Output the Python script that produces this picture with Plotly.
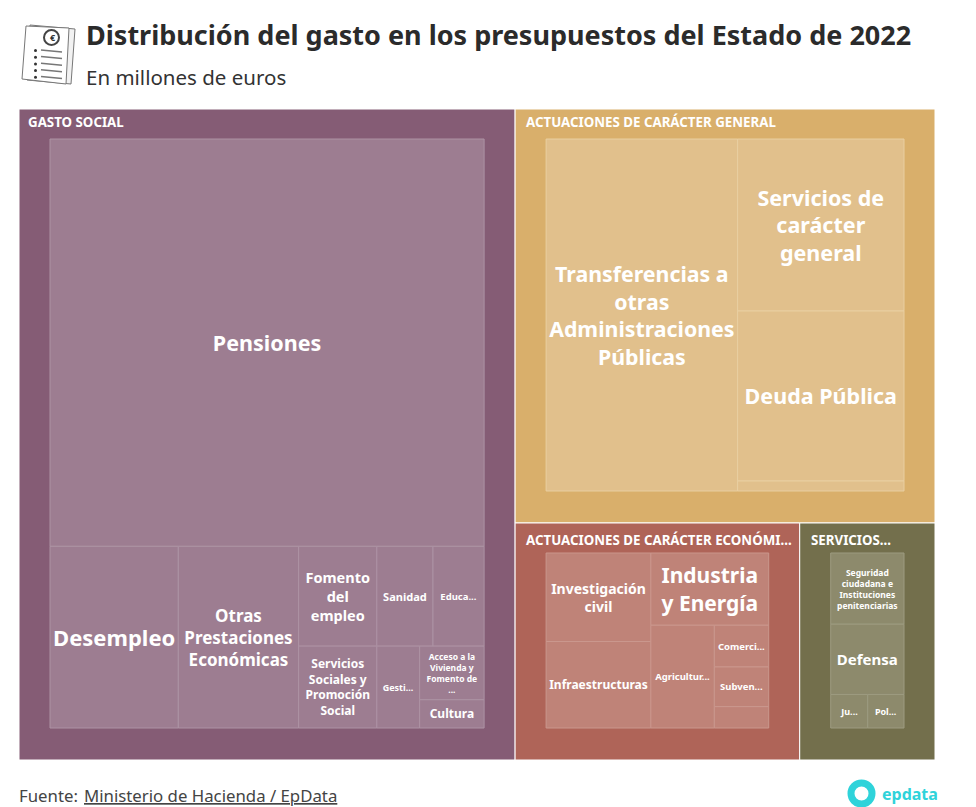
import plotly.graph_objects as go

W, H = 976, 807
LEFT_BLEED = 12  # the treemap's root padding reaches past the left page edge
FIG_W = W + LEFT_BLEED

TITLE = "Distribución del gasto en los presupuestos del Estado de 2022"
SUBTITLE = "En millones de euros"
SOURCE_PREFIX = "Fuente:"
SOURCE_LINK = "Ministerio de Hacienda / EpData"

groups = ["GASTO SOCIAL", "ACTUACIONES DE CARÁCTER GENERAL",
          "ACTUACIONES DE CARÁCTER ECONÓMICO", "SERVICIOS PÚBLICOS BÁSICOS"]
group_text = ["GASTO SOCIAL", "ACTUACIONES DE CARÁCTER GENERAL",
              "ACTUACIONES DE CARÁCTER ECONÓMI...", "SERVICIOS..."]
group_colors = ["#855C75", "#D9AF6B", "#AF6458", "#736F4C"]
leaf_colors = ["#9D7D91", "#E1C08C", "#BF8378", "#8D8A6C"]
leaf_lines = ["#AD93A4", "#E9CFA1", "#CA978D", "#9D9B80"]

social_labels = ["Pensiones", "Desempleo", "Otras Prestaciones Económicas", "Fomento del empleo",
                 "Servicios Sociales y Promoción Social", "Sanidad", "Educación",
                 "Gestión y Administración de la Seguridad Social",
                 "Acceso a la Vivienda y Fomento de la Edificación", "Cultura"]
social_values = [171165, 22570, 21158, 7557, 6196, 5425, 4941, 3390, 3345, 1763]
social_text = ["Pensiones", "Desempleo", "Otras<br>Prestaciones<br>Económicas", "Fomento<br>del<br>empleo",
               "Servicios<br>Sociales y<br>Promoción<br>Social", "Sanidad", "Educa...", "Gesti...",
               "Acceso a la<br>Vivienda y<br>Fomento de<br>...", "Cultura"]
social_sizes = [21.5, 22, 17, 14.5, 12, 11, 9.5, 9, 8.5, 12]

general_labels = ["Transferencias a otras Administraciones Públicas", "Servicios de carácter general",
                  "Deuda Pública", "Alta dirección"]
general_values = [71275, 30270, 29917, 1760]
general_text = ["Transferencias a<br>otras<br>Administraciones<br>Públicas", "Servicios de<br>carácter<br>general",
                "Deuda Pública", ""]
general_sizes = [21.5, 21.5, 21.5, 9]

economic_labels = ["Investigación civil", "Infraestructuras", "Industria y Energía", "Agricultura, Pesca y Alimentación",
                   "Comercio, Turismo y PYMES", "Subvenciones al transporte", "Otras Actuaciones de Carácter Económico"]
economic_values = [12305, 12022, 11298, 8654, 3011, 2864, 1542]
economic_text = ["Investigación<br>civil", "Infraestructuras", "Industria<br>y Energía", "Agricultur...",
                 "Comerci...", "Subven...", ""]
economic_sizes = [14, 14, 21, 9.5, 9.5, 9.5, 9]

services_labels = ["Seguridad ciudadana e Instituciones penitenciarias", "Defensa", "Justicia", "Política Exterior"]
services_values = [10000, 9860, 2380, 2332]
services_text = ["Seguridad<br>ciudadana e<br>Instituciones<br>penitenciarias", "Defensa", "Ju...", "Pol..."]
services_sizes = [8.5, 15, 9, 9]

FONT = "Noto Sans"
PAD = dict(l=31, r=31, t=30, b=32)


def px(x):
    return (x + LEFT_BLEED) / FIG_W


def py(y):
    return 1 - y / H


leaf_sets = [
    (social_labels, social_values, social_text, social_sizes),
    (general_labels, general_values, general_text, general_sizes),
    (economic_labels, economic_values, economic_text, economic_sizes),
    (services_labels, services_values, services_text, services_sizes),
]

ids, labels, parents, values, texts, hovers, sizes, colors, lcolors = [], [], [], [], [], [], [], [], []
for i, (g, (ls, vs, ts, ss)) in enumerate(zip(groups, leaf_sets)):
    ids.append(g)
    labels.append("")  # group headers are left-aligned annotations below
    parents.append("")
    values.append(sum(vs))
    texts.append("")
    hovers.append(g)
    sizes.append(10)
    colors.append(group_colors[i])
    lcolors.append("#FFFFFF")
    for l, v, t, s in zip(ls, vs, ts, ss):
        ids.append(l)
        labels.append(l)
        parents.append(g)
        values.append(v)
        texts.append(t)
        hovers.append(l)
        sizes.append(s)
        colors.append(leaf_colors[i])
        lcolors.append(leaf_lines[i])

fig = go.Figure(go.Treemap(
    ids=ids,
    labels=labels,
    parents=parents,
    values=values,
    text=texts,
    hovertext=hovers,
    branchvalues="total",
    sort=True,
    texttemplate="%{text}",
    textposition="middle center",
    textfont=dict(family=FONT, color="#FFFFFF", size=sizes, weight=700),
    hoverinfo="text+value",
    marker=dict(colors=colors, line=dict(color=lcolors, width=1), pad=PAD),
    tiling=dict(packing="squarify", squarifyratio=1, pad=0),
    pathbar=dict(visible=False),
    domain=dict(x=[max(0, px(19 - PAD["l"])), px(935 + PAD["r"])],
                y=[py(760 + PAD["b"]), py(109 - PAD["t"])]),
))

annotations = [
    dict(text=f"<b>{TITLE}</b>", x=px(84), y=py(35), font=dict(family=FONT, size=27, color="#2B2B2B")),
    dict(text=SUBTITLE, x=px(84), y=py(77), font=dict(family=FONT, size=20.5, color="#333333")),
    dict(text=SOURCE_PREFIX, x=px(17), y=py(795), font=dict(family=FONT, size=16.8, color="#444444")),
    dict(text=SOURCE_LINK, x=px(82), y=py(795), font=dict(family=FONT, size=16.8, color="#444444", lineposition="under")),
    dict(text="<b>epdata</b>", x=px(880), y=py(794), font=dict(family=FONT, size=16, color="#2FD3DA")),
    dict(text="<b>€</b>", x=px(47.5), y=py(37.5), font=dict(family=FONT, size=9, color="#333333")),
]
header_pos = [(26, 122), (524, 122), (524, 540), (809, 540)]
for t, (hx, hy) in zip(group_text, header_pos):
    annotations.append(dict(text=f"<b>{t}</b>", x=px(hx), y=py(hy), font=dict(family=FONT, size=13.3, color="#FFFFFF")))
for a in annotations:
    a.update(xref="paper", yref="paper", xanchor="left", yanchor="middle", showarrow=False)


def path(points):
    return "M " + " L ".join(f"{px(x)},{py(y)}" for x, y in points) + " Z"


shapes = [
    # document icon
    dict(type="path", path=path([(30, 25), (75, 29), (71, 84), (27, 80)]), fillcolor="#F2F2F2", line=dict(color="#777777", width=1)),
    dict(type="path", path=path([(26, 26), (69, 28), (66, 84), (22, 79)]), fillcolor="#FFFFFF", line=dict(color="#777777", width=1)),
    dict(type="circle", x0=px(44), x1=px(59), y0=py(30), y1=py(45), line=dict(color="#444444", width=2), fillcolor="#FFFFFF"),
    # epdata ring
    dict(type="circle", x0=px(851), x1=px(872), y0=py(804), y1=py(783), line=dict(color="#2FD3DA", width=7), fillcolor="rgba(0,0,0,0)"),
]
for k in range(5):
    y = 50 + k * 6.6
    shapes.append(dict(type="line", x0=px(41), x1=px(62), y0=py(y), y1=py(y + 2), line=dict(color="#777777", width=1.5)))
    shapes.append(dict(type="circle", x0=px(34), x1=px(37), y0=py(y - 1 + k * 0.1), y1=py(y + 2 + k * 0.1), fillcolor="#333333", line=dict(width=0)))
for s in shapes:
    s.update(xref="paper", yref="paper", layer="below")

fig.update_layout(width=FIG_W, height=H, margin=dict(l=0, r=0, t=0, b=0), paper_bgcolor="#FFFFFF",
                  annotations=annotations, shapes=shapes, font=dict(family=FONT))

fig.write_html("out.html", config=dict(displayModeBar=False),
               post_script=f"document.body.style.margin='0 0 0 -{LEFT_BLEED}px';document.body.style.overflow='hidden';")
